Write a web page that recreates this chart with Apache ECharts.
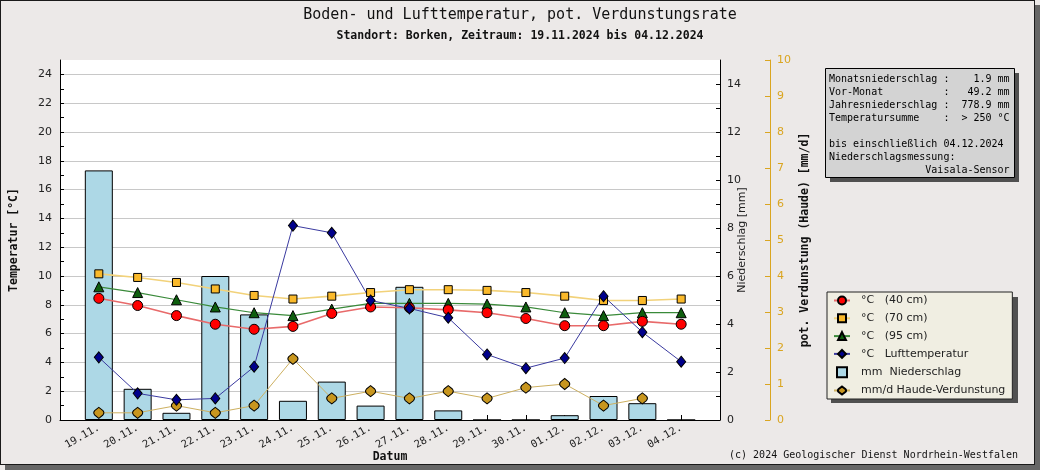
<!DOCTYPE html>
<html>
<head>
<meta charset="utf-8">
<script src="https://cdn.jsdelivr.net/npm/echarts@6/dist/echarts.min.js"></script>
<style>
html,body{margin:0;padding:0;background:#ECE9E8;}
#frame{position:absolute;left:0;top:0;width:1033px;height:463px;border:1px solid #1a1a1a;background:#ECE9E8;box-shadow:5px 5px 0 #666;}
#chart{position:absolute;left:0;top:0;width:1040px;height:470px;}
</style>
</head>
<body>
<div id="frame"></div>
<div id="chart"></div>
<script>
const categories = ['19.11.', '20.11.', '21.11.', '22.11.', '23.11.', '24.11.', '25.11.', '26.11.', '27.11.', '28.11.', '29.11.', '30.11.', '01.12.', '02.12.', '03.12.', '04.12.'];
const soil40 = [8.45, 7.95, 7.25, 6.65, 6.3, 6.5, 7.4, 7.85, 7.8, 7.65, 7.45, 7.05, 6.55, 6.55, 6.85, 6.65];
const soil70 = [10.15, 9.9, 9.55, 9.1, 8.65, 8.4, 8.6, 8.85, 9.05, 9.05, 9.0, 8.85, 8.6, 8.3, 8.3, 8.4];
const soil95 = [9.25, 8.85, 8.35, 7.85, 7.45, 7.25, 7.7, 8.1, 8.1, 8.1, 8.05, 7.85, 7.45, 7.25, 7.45, 7.45];
const airTemp = [4.35, 1.85, 1.4, 1.5, 3.7, 13.5, 13.0, 8.3, 7.75, 7.1, 4.55, 3.6, 4.3, 8.6, 6.1, 4.05];
const precip = [10.4, 1.3, 0.3, 6.0, 4.4, 0.8, 1.6, 0.6, 5.55, 0.4, 0, 0, 0.2, 1.0, 0.7, 0];
const haude = [0.2, 0.2, 0.4, 0.2, 0.4, 1.7, 0.6, 0.8, 0.6, 0.8, 0.6, 0.9, 1.0, 0.4, 0.6, null];
const infoLines = [
  'Monatsniederschlag :    1.9 mm',
  'Vor-Monat          :   49.2 mm',
  'Jahresniederschlag :  778.9 mm',
  'Temperatursumme    :  > 250 °C',
  '',
  'bis einschließlich 04.12.2024',
  'Niederschlagsmessung:',
  '                Vaisala-Sensor'
];
const titleText = 'Boden- und Lufttemperatur, pot. Verdunstungsrate';
const subtitleText = 'Standort: Borken, Zeitraum: 19.11.2024 bis 04.12.2024';
const footerText = '(c) 2024 Geologischer Dienst Nordrhein-Westfalen';
const names = ['°C   (40 cm)', '°C   (70 cm)', '°C   (95 cm)', '°C   Lufttemperatur', 'mm  Niederschlag', 'mm/d Haude-Verdunstung'];

const MONO = '"DejaVu Sans Mono", "Liberation Mono", monospace';
const SANS = '"DejaVu Sans", sans-serif';
const pts = arr => arr.map((v, i) => [i + 1, v]);
const haudeSymbol = 'path://M5,0 L8.6,3.6 A4.2,4.2 0 0 1 8.6,8.4 L5,12 L1.4,8.4 A4.2,4.2 0 0 1 1.4,3.6 Z';

const chart = echarts.init(document.getElementById('chart'), null, {renderer: 'canvas'});

const infoGraphic = [
  {type: 'rect', shape: {x: 830, y: 73, width: 189, height: 109}, style: {fill: '#505050'}, z: 0},
  {type: 'rect', shape: {x: 825.5, y: 68.5, width: 189, height: 109}, style: {fill: '#D3D3D3', stroke: '#000', lineWidth: 1}, z: 1},
  {type: 'rect', shape: {x: 831, y: 297, width: 187, height: 106}, style: {fill: '#505050'}, z: 0}
];
infoLines.forEach((t, i) => {
  infoGraphic.push({type: 'text', x: 829, y: 79.5 + 12.95 * i, z: 2,
    style: {text: t, font: '10px ' + MONO, fill: '#000', align: 'left', verticalAlign: 'middle'}});
});
infoGraphic.push({type: 'text', x: 1018, y: 455, z: 2,
  style: {text: footerText, font: '10px ' + MONO, fill: '#111', align: 'right', verticalAlign: 'middle'}});

function lineSeries(name, data, symbol, size, fill, lineColor, lw, yIdx) {
  return {
    type: 'line', name: name, data: pts(data), yAxisIndex: yIdx,
    symbol: symbol, symbolSize: size, showSymbol: true,
    itemStyle: {color: fill, borderColor: '#000', borderWidth: 1},
    lineStyle: {color: lineColor, width: lw},
    emphasis: {disabled: true}, z: 3
  };
}

const option = {
  animation: false,
  backgroundColor: 'transparent',
  title: {
    text: titleText, subtext: subtitleText, left: 'center', top: 3, itemGap: 7,
    textStyle: {fontFamily: MONO, fontSize: 15, fontWeight: 'normal', color: '#111'},
    subtextStyle: {fontFamily: MONO, fontSize: 11.5, fontWeight: 'bold', color: '#111'}
  },
  grid: {left: 60, right: 320, top: 60, bottom: 50, show: true, backgroundColor: '#fff', borderWidth: 0,
    containLabel: false, outerBoundsMode: 'none'},
  legend: {
    orient: 'vertical', left: 827, top: 292,
    padding: [3, 7, 3, 6], itemGap: 6.8, itemWidth: 16, itemHeight: 10,
    backgroundColor: '#F0EEE2', borderColor: '#222', borderWidth: 1,
    textStyle: {fontFamily: SANS, fontSize: 11, color: '#222', padding: [0, 0, 0, 6]},
    data: [
      {name: names[0]}, {name: names[1]}, {name: names[2]}, {name: names[3]},
      {name: names[4], icon: 'path://M0,0 L10,0 L10,10 L0,10 Z'},
      {name: names[5]}
    ],
    selectedMode: false
  },
  xAxis: {
    type: 'value', min: 0, max: 17, interval: 1,
    name: 'Datum', nameLocation: 'middle', nameGap: 31, nameMoveOverlap: false,
    nameTextStyle: {fontFamily: MONO, fontSize: 11.5, fontWeight: 'bold', color: '#111'},
    axisLine: {show: true, lineStyle: {color: '#000', width: 1}},
    axisTick: {show: true, inside: true, length: 5, lineStyle: {color: '#000'}},
    axisLabel: {
      rotate: 30, margin: 7, fontFamily: MONO, fontSize: 10.5, color: '#222',
      formatter: v => categories[v - 1] || ''
    },
    splitLine: {show: false}
  },
  yAxis: [
    {
      type: 'value', min: 0, max: 25, interval: 1, position: 'left',
      name: 'Temperatur [°C]', nameLocation: 'middle', nameGap: 40, nameRotate: 90, nameMoveOverlap: false,
      nameTextStyle: {fontFamily: MONO, fontSize: 11.5, fontWeight: 'bold', color: '#111'},
      axisLine: {show: true, lineStyle: {color: '#000'}},
      axisTick: {show: true, inside: true, length: 4, lineStyle: {color: '#000'}},
      axisLabel: {margin: 8, fontFamily: SANS, fontSize: 11, color: '#222', showMaxLabel: false,
        formatter: v => (v % 2 === 0 ? String(v) : '')},
      splitLine: {show: true, lineStyle: {color: ['#C8C8C8', 'transparent'], width: 1}}
    },
    {
      type: 'value', min: 0, max: 15, interval: 1, position: 'right',
      name: 'Niederschlag [mm]', nameLocation: 'middle', nameGap: 17, nameRotate: 90, nameMoveOverlap: false,
      nameTextStyle: {fontFamily: SANS, fontSize: 11, color: '#222'},
      axisLine: {show: true, lineStyle: {color: '#000'}},
      axisTick: {show: true, inside: true, length: 4, lineStyle: {color: '#000'}},
      axisLabel: {margin: 7, fontFamily: SANS, fontSize: 11, color: '#222', showMaxLabel: false,
        formatter: v => (v % 2 === 0 ? String(v) : '')},
      splitLine: {show: false}
    },
    {
      type: 'value', min: 0, max: 10, interval: 1, position: 'right', offset: 50,
      name: 'pot. Verdunstung (Haude) [mm/d]', nameLocation: 'middle', nameGap: 29, nameRotate: 90, nameMoveOverlap: false,
      nameTextStyle: {fontFamily: MONO, fontSize: 11.5, fontWeight: 'bold', color: '#111'},
      axisLine: {show: true, lineStyle: {color: '#DAA520'}},
      axisTick: {show: true, inside: true, length: 5, lineStyle: {color: '#DAA520'}},
      axisLabel: {margin: 7, fontFamily: SANS, fontSize: 11, color: '#DAA520'},
      splitLine: {show: false}
    }
  ],
  graphic: infoGraphic,
  series: [
    {
      type: 'bar', name: names[4], data: pts(precip), yAxisIndex: 1, barWidth: 28,
      itemStyle: {color: '#ADD8E6', borderColor: '#000', borderWidth: 1},
      emphasis: {disabled: true}, z: 2
    },
    lineSeries(names[5], haude, haudeSymbol, [10, 11], '#C8961E', '#CDB060', 1, 2),
    lineSeries(names[1], soil70, 'rect', 8, '#FAB92A', '#F2D27A', 1.6, 0),
    lineSeries(names[2], soil95, 'triangle', 10, '#0E5E0E', '#3A8A3A', 1.2, 0),
    lineSeries(names[0], soil40, 'circle', 10, '#FF0000', '#E86A6A', 1.6, 0),
    lineSeries(names[3], airTemp, 'diamond', [9, 11], '#00008B', '#3A3AA0', 1, 0)
  ]
};
chart.setOption(option);
</script>
</body>
</html>
